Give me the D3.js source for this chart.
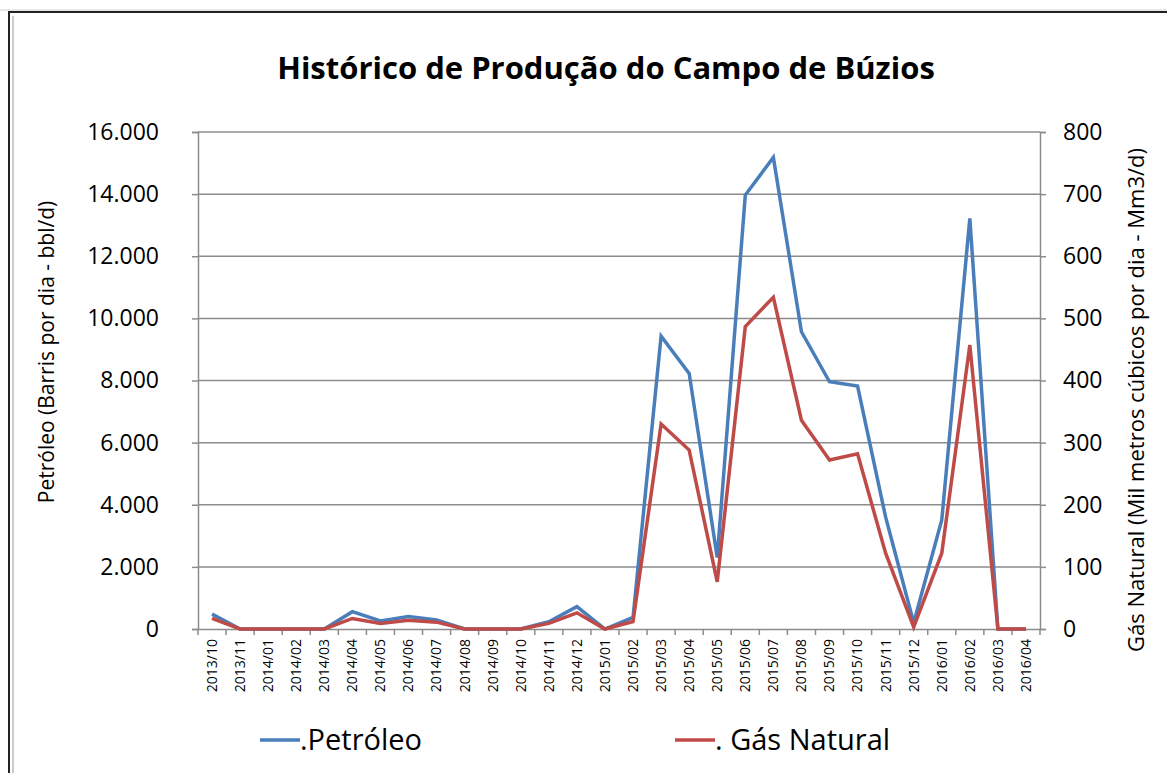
<!DOCTYPE html>
<html>
<head>
<meta charset="utf-8">
<script src="https://cdn.jsdelivr.net/npm/d3@7"></script>
<style>
  body { margin: 0; background: #fff; }
  svg text { font-family: "Liberation Sans Narrow", "Open Sans", sans-serif; fill: #000; }
</style>
</head>
<body>
<svg id="chart" width="1167" height="773"></svg>
<script>
// meses
var months = ["2013/10","2013/11","2014/01","2014/02","2014/03","2014/04","2014/05","2014/06","2014/07",
  "2014/08","2014/09","2014/10","2014/11","2014/12","2015/01","2015/02","2015/03","2015/04","2015/05",
  "2015/06","2015/07","2015/08","2015/09","2015/10","2015/11","2015/12","2016/01","2016/02","2016/03","2016/04"];
// petróleo bbl/d
var petroleo = [480,0,0,0,0,557,258,400,290,0,0,0,235,720,0,375,9430,8230,2300,
  13970,15180,9570,7960,7820,3600,200,3510,13220,0,0];
// gás natural Mm3/d
var gas = [17,0,0,0,0,17,9,14,11,0,0,0,9,26,0,12,330,288,76,
  487,534,336,272,282,122,3,122,457,0,0];
var leftTicks = [0,2000,4000,6000,8000,10000,12000,14000,16000];
var rightTicks = [0,100,200,300,400,500,600,700,800];

var svg = d3.select("#chart");
var pLeft = 198, pRight = 1040, pTop = 132, pBottom = 629;

// moldura
svg.append("line").attr("x1",0).attr("x2",1167).attr("y1",10).attr("y2",10).style("stroke","#d0d0d0");
svg.append("rect").attr("x",9).attr("y",12).attr("width",1170).attr("height",780)
  .style("fill","#fff").style("stroke","#222").style("stroke-width",2);
svg.append("line").attr("x1",13).attr("x2",13).attr("y1",16).attr("y2",773).style("stroke","#999");

var x = d3.scaleBand().domain(months).range([pLeft, pRight]);
var yL = d3.scaleLinear().domain([0,16000]).range([pBottom, pTop]);
var yR = d3.scaleLinear().domain([0,800]).range([pBottom, pTop]);
var fmt = function(d){ return d3.format(",")(d).replace(/,/g,"."); };

// grade
svg.append("g").selectAll("line").data(leftTicks.slice(1)).enter().append("line")
  .attr("x1",pLeft).attr("x2",pRight)
  .attr("y1",d=>yL(d)).attr("y2",d=>yL(d))
  .style("stroke","#8c8c8c").style("stroke-width",1.5);

// eixos
var axL = svg.append("g").attr("transform","translate("+pLeft+",0)")
  .call(d3.axisLeft(yL).tickValues(leftTicks).tickFormat(fmt).tickSize(6).tickPadding(33));
var axR = svg.append("g").attr("transform","translate("+pRight+",0)")
  .call(d3.axisRight(yR).tickValues(rightTicks).tickSize(6).tickPadding(17));
var axB = svg.append("g").attr("transform","translate(0,"+pBottom+")")
  .call(d3.axisBottom(x).tickSize(0).tickPadding(0));
[axL,axR,axB].forEach(function(a){
  a.selectAll("path,line").style("stroke","#8c8c8c").style("stroke-width",1.5);
});
axL.selectAll("text").style("font-size","23px").style("font-family","'Open Sans', sans-serif");
axR.selectAll("text").style("font-size","23px").style("font-family","'Open Sans', sans-serif").attr("text-anchor","start");
axB.selectAll("text").attr("transform","rotate(-90)").attr("x",-10).attr("y",0).attr("dy","0.35em")
  .attr("text-anchor","end").style("font-size","14px").style("font-family","'Open Sans', sans-serif");
// marcas entre categorias
axB.selectAll(".sep").data(months.concat(["fim"])).enter().append("line")
  .attr("x1",(d,i)=>pLeft+i*x.step()).attr("x2",(d,i)=>pLeft+i*x.step())
  .attr("y1",0).attr("y2",6).style("stroke","#8c8c8c").style("stroke-width",1.5);

// linhas
var lineL = d3.line().x((d,i)=>x(months[i])+x.bandwidth()/2).y(d=>yL(d));
var lineR = d3.line().x((d,i)=>x(months[i])+x.bandwidth()/2).y(d=>yR(d));
svg.append("path").datum(petroleo).attr("d",lineL)
  .style("fill","none").style("stroke","#4a7ebb").style("stroke-width",3.5).style("stroke-linejoin","miter");
svg.append("path").datum(gas).attr("d",lineR)
  .style("fill","none").style("stroke","#be4b48").style("stroke-width",3.5).style("stroke-linejoin","miter");

// títulos
svg.append("text").attr("x",606).attr("y",79).attr("text-anchor","middle")
  .style("font-size","31px").style("font-weight","bold")
  .text("Histórico de Produção do Campo de Búzios");
svg.append("text").attr("transform","translate(54,352) rotate(-90)").attr("text-anchor","middle")
  .style("font-size","21px").style("font-family","'Open Sans', sans-serif")
  .text("Petróleo (Barris por dia - bbl/d)");
svg.append("text").attr("transform","translate(1144,400) rotate(-90)").attr("text-anchor","middle")
  .style("font-size","22px").style("font-family","'Open Sans', sans-serif")
  .text("Gás Natural  (Mil metros cúbicos por dia - Mm3/d)");

// legenda
var legend = [{name:".Petróleo", color:"#4a7ebb", x:260},{name:". Gás Natural", color:"#be4b48", x:675}];
var lg = svg.append("g").selectAll("g").data(legend).enter().append("g");
lg.append("line").attr("x1",d=>d.x).attr("x2",d=>d.x+40).attr("y1",740).attr("y2",740)
  .style("stroke",d=>d.color).style("stroke-width",3.5);
lg.append("text").attr("x",d=>d.x+40).attr("y",750).style("font-size","29px").text(d=>d.name);
</script>
</body>
</html>
